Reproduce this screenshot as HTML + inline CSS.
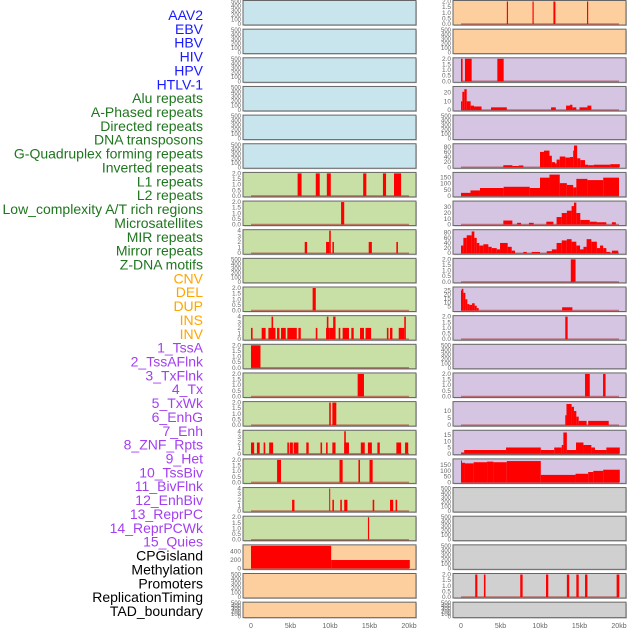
<!DOCTYPE html>
<html><head><meta charset="utf-8"><style>
html,body{margin:0;padding:0;background:#fff;}
svg{display:block;font-family:"Liberation Sans",sans-serif;}
</style></head><body>
<svg id="chart" width="630" height="630" viewBox="0 0 630 630" xmlns="http://www.w3.org/2000/svg"></svg>
<script>
// ---- data: bars as [startKb, endKb, value] ----
const L0=[],L1=[],L2=[],L3=[],L4=[],L5=[];
const L6=[[5.9,6.4,2],[8.2,8.7,2],[9.6,10.1,2],[14.2,14.6,2],[16.7,17.1,2],[18.1,19.0,2]];
const L7=[[11.4,11.8,2]];
const L8=[[6.8,7.1,2],[9.5,9.9,2],[9.9,10.1,4],[10.3,10.5,2],[14.9,15.3,2],[18.4,18.6,2]];
const L9=[];
const L10=[[7.8,8.2,2]];
const L11=[[0,0.2,2],[1.35,1.85,2],[2.2,3.1,2],[2.6,2.8,4],[3.3,3.6,2],[3.8,4.4,2],[4.6,5.8,2],[6.0,6.3,2],[8.2,8.4,2],[9.5,9.9,2],[9.6,9.8,4],[9.9,10.7,2],[10.4,10.7,4],[11.1,11.3,2],[11.6,12.4,2],[12.7,13.0,2],[13.8,14.3,2],[14.5,15.2,2],[17.2,17.4,2],[17.6,17.9,2],[18.7,19.4,2],[19.4,19.6,4]];
const L12=[[0,1.2,2]];
const L13=[[13.5,14.3,2]];
const L14=[[9.9,10.1,2],[10.3,10.8,2]];
const L15=[[0,0.4,2],[0.75,1.1,2],[1.6,1.8,2],[2.3,2.8,2],[4.6,4.8,2],[4.9,5.3,2],[5.4,6.0,2],[7.0,7.3,2],[8.8,9.0,2],[9.5,9.7,2],[10.3,10.7,2],[11.8,12.4,2],[11.8,12.0,4],[13.9,14.4,2],[14.8,15.3,2],[16.0,16.3,2],[18.4,19.0,2],[19.5,19.9,2]];
const L16=[[3.3,3.8,2],[11.2,11.6,2],[13.6,13.8,2],[15.0,15.4,2]];
const L17=[[5.2,5.5,2],[9.9,10.0,4],[10.3,10.5,2],[11.3,11.5,2],[11.8,12.2,2],[15.4,15.6,2],[17.6,18.0,2],[18.3,18.5,2]];
const L18=[[14.8,14.95,2]];
const L19=[[0,10.15,540],[10.15,20.1,200]];
const L20=[],L21=[];
const R0=[[5.8,5.95,2],[9.05,9.2,2],[11.7,11.95,2],[15.95,16.1,2]];
const R1=[];
const R2=[[0,0.2,2],[0.5,1.35,2],[4.6,5.4,2]];
const R3=[[0,0.17,10],[0.17,0.42,21],[0.42,0.72,24],[0.72,1.22,10],[1.22,1.65,5],[1.65,2.6,4],[3.8,5.8,3],[11.4,12.0,3],[13.3,13.8,5],[13.8,14.1,6],[14.1,14.6,3],[15.0,16.0,3],[16.0,16.5,5]];
const R4=[];
const R5=[[5.36,6.5,8],[6.5,7.3,5],[7.3,7.9,7],[10.0,10.5,60],[10.5,11.2,65],[11.2,11.5,45],[11.5,11.9,20],[11.9,12.1,15],[12.1,12.5,30],[12.5,13.2,42],[13.2,13.8,38],[13.8,14.2,40],[14.2,14.3,65],[14.3,14.7,85],[14.7,15.1,35],[15.1,15.7,28],[15.7,16.1,10],[16.1,16.8,8],[16.8,18.9,10],[18.9,20.1,12]];
const R6=[[0,1.2,25],[1.2,2.4,45],[2.4,5.4,65],[5.4,8.7,75],[8.7,10.0,65],[10.0,11.2,150],[11.2,12.5,175],[12.5,13.4,105],[13.4,14.2,90],[14.2,14.6,70],[14.6,16.0,140],[16.0,18.0,130],[18.0,20.0,150]];
const R7=[[5.36,6.5,7],[7.1,7.6,3],[8.6,9.2,3],[10.8,11.7,5],[12.1,12.75,13],[12.75,13.4,20],[13.4,14.0,24],[14.0,14.3,32],[14.3,14.6,38],[14.6,15.1,20],[15.1,16.3,8],[16.3,17.2,5],[17.2,18.4,4],[19.1,19.6,4]];
const R8=[[0,0.3,30],[0.3,0.72,60],[0.72,1.35,70],[1.35,1.69,85],[1.69,1.99,60],[1.99,2.32,40],[2.32,2.83,30],[2.83,3.46,35],[3.46,3.89,25],[3.89,4.52,20],[4.52,4.94,15],[4.94,5.91,40],[5.91,6.42,25],[6.42,6.84,10],[7.89,8.32,5],[8.95,10.0,5],[10.85,11.5,8],[11.5,12.1,15],[12.1,12.75,40],[12.75,13.4,50],[13.4,14.0,55],[14.0,14.6,45],[14.6,15.07,30],[15.07,15.5,15],[15.5,15.9,25],[15.9,16.5,55],[16.5,17.2,45],[17.2,17.6,20],[17.6,18.0,30],[18.0,18.4,20],[18.4,18.9,5],[19.1,19.9,10]];
const R9=[[13.9,14.5,2]];
const R10=[[0,0.09,25],[0.09,0.3,27],[0.3,0.55,22],[0.55,0.8,14],[0.8,1.06,8],[1.06,1.4,7],[1.4,1.73,9],[1.73,1.99,6],[1.99,2.24,3],[12.8,14.1,4]];
const R11=[[13.2,13.5,2]];
const R12=[];
const R13=[[15.7,16.3,2],[17.98,18.3,2]];
const R14=[[13.2,13.35,7],[13.35,14.0,15],[14.0,14.3,13],[14.3,14.6,10],[14.6,14.9,6],[14.9,15.9,3],[16.1,18.7,3]];
const R15=[[0,0.4,1],[0.4,5.7,3],[5.7,10.1,5],[10.1,11.8,3],[11.8,12.75,5],[12.75,12.96,7],[12.96,13.4,17],[13.4,14.56,3],[14.56,15.5,9],[15.5,16.5,7],[16.5,16.96,5],[16.96,18.4,3],[18.4,20.1,5]];
const R16=[[0,0.1,190],[0.1,0.5,170],[0.5,1.6,165],[1.6,3.3,175],[3.3,4.1,180],[4.1,5.8,175],[5.8,10.1,185],[10.1,14.5,65],[14.5,16.1,75],[16.1,16.75,90],[16.75,18.0,100],[18.0,20.1,110]];
const R17=[],R18=[],R19=[];
const R20=[[1.8,2.07,2],[2.9,3.1,2],[7.5,7.8,2],[10.76,11.05,2],[13.4,13.7,2],[14.6,14.9,2],[15.7,16.0,2],[19.7,20.04,2]];
const R21=[];

const labels=["AAV2","EBV","HBV","HIV","HPV","HTLV-1","Alu repeats","A-Phased repeats","Directed repeats","DNA transposons","G-Quadruplex forming repeats","Inverted repeats","L1 repeats","L2 repeats","Low_complexity A/T rich regions","Microsatellites","MIR repeats","Mirror repeats","Z-DNA motifs","CNV","DEL","DUP","INS","INV","1_TssA","2_TssAFlnk","3_TxFlnk","4_Tx","5_TxWk","6_EnhG","7_Enh","8_ZNF_Rpts","9_Het","10_TssBiv","11_BivFlnk","12_EnhBiv","13_ReprPC","14_ReprPCWk","15_Quies","CPGisland","Methylation","Promoters","ReplicationTiming","TAD_boundary"];
const xTicks=[0,5,10,15,20];
const xTickLabels=["0","5kb","10kb","15kb","20kb"];
const leftData=[L0,L1,L2,L3,L4,L5,L6,L7,L8,L9,L10,L11,L12,L13,L14,L15,L16,L17,L18,L19,L20,L21];
const rightData=[R0,R1,R2,R3,R4,R5,R6,R7,R8,R9,R10,R11,R12,R13,R14,R15,R16,R17,R18,R19,R20,R21];
// per-panel y domain max and ticks
const leftYMax=[500,500,500,500,500,500,2,2,4,500,2,4,2,2,2,4,2,4,2,540,500,500];
const rightYMax=[2,500,2,26,500,88,185,39,88,2,28,2,500,2,16,18,195,500,500,500,2,500];
const leftTicks=[[0,100,200,300,400,500],[0,100,200,300,400,500],[0,100,200,300,400,500],[0,100,200,300,400,500],[0,100,200,300,400,500],[0,100,200,300,400,500],[0,0.5,1,1.5,2],[0,0.5,1,1.5,2],[0,1,2,3,4],[0,100,200,300,400,500],[0,0.5,1,1.5,2],[0,1,2,3,4],[0,0.5,1,1.5,2],[0,0.5,1,1.5,2],[0,0.5,1,1.5,2],[0,1,2,3,4],[0,0.5,1,1.5,2],[0,1,2,3,4],[0,0.5,1,1.5,2],[0,200,400],[0,100,200,300,400,500],[0,100,200,300,400,500]];
const rightTicks=[[0,0.5,1,1.5,2],[0,100,200,300,400,500],[0,0.5,1,1.5,2],[0,10,20],[0,100,200,300,400,500],[0,20,40,60,80],[0,50,100,150],[0,10,20,30],[0,20,40,60,80],[0,0.5,1,1.5,2],[5,10,15,20,25],[0,0.5,1,1.5,2],[0,100,200,300,400,500],[0,0.5,1,1.5,2],[0,5,10],[0,5,10,15],[0,50,100,150],[0,100,200,300,400,500],[0,100,200,300,400,500],[0,100,200,300,400,500],[0,0.5,1,1.5,2],[0,100,200,300,400,500]];
const leftBg=["#c8e4ec","#c8e4ec","#c8e4ec","#c8e4ec","#c8e4ec","#c8e4ec","#c8e0a5","#c8e0a5","#c8e0a5","#c8e0a5","#c8e0a5","#c8e0a5","#c8e0a5","#c8e0a5","#c8e0a5","#c8e0a5","#c8e0a5","#c8e0a5","#c8e0a5","#fecf9e","#fecf9e","#fecf9e"];
const rightBg=["#fecf9e","#fecf9e","#d5c5e2","#d5c5e2","#d5c5e2","#d5c5e2","#d5c5e2","#d5c5e2","#d5c5e2","#d5c5e2","#d5c5e2","#d5c5e2","#d5c5e2","#d5c5e2","#d5c5e2","#d5c5e2","#d5c5e2","#d0d0d0","#d0d0d0","#d0d0d0","#d0d0d0","#d0d0d0"];

const NS="http://www.w3.org/2000/svg";
const svg=document.getElementById('chart');
function mk(tag,attrs,parent){const e=document.createElementNS(NS,tag);for(const k in attrs)e.setAttribute(k,attrs[k]);(parent||svg).appendChild(e);return e;}

// labels
function labelColor(i){if(i<6)return"#1a1aff";if(i<19)return"#1f761f";if(i<24)return"#ffa500";if(i<39)return"#a33ff0";return"#000";}
labels.forEach((t,i)=>{
  const e=mk('text',{x:203,y:(15+13.86*i+5).toFixed(1),'text-anchor':'end','font-size':'14',fill:labelColor(i)});
  e.textContent=t;
  
  
});

function rowTop(i){return i*28.65+0.5;}
function rowH(i){return i===21?15.5:24.5;}

function drawPanel(colX,i,bars,ymax,ticks,bg,name){
  const g=mk('g',{});
  
  
  const top=rowTop(i),h=rowH(i),bottom=top+h;
  const xs=kb=>colX+8+kb*7.9;
  const ys=v=>bottom-1-(v/ymax)*(h-2);
  mk('rect',{x:colX+1,y:top+1,width:173,height:h,fill:'#999',opacity:0.5},g);
  mk('rect',{x:colX,y:top,width:173,height:h,fill:bg,stroke:'#666','stroke-width':1},g);
  const hasData=ymax<=200&&ymax!==500;
  if(bars.length){
    mk('line',{x1:xs(0),x2:xs(20),y1:bottom-1,y2:bottom-1,stroke:'rgba(170,40,40,0.55)','stroke-width':1.5},g);
  }
  bars.forEach(b=>{
    const x1=xs(b[0]),x2=xs(b[1]),y=ys(Math.min(b[2],ymax));
    const r=mk('rect',{x:x1.toFixed(2),y:y.toFixed(2),width:Math.max(1,x2-x1).toFixed(2),height:(bottom-1-y).toFixed(2),fill:'#ff0000'},g);
    
    
  });
  ticks.forEach(t=>{
    const lab=ymax<=2?t.toFixed(1):String(t);
    const e=mk('text',{x:colX-2,y:(ys(t)+2).toFixed(1),'text-anchor':'end','font-size':ymax===500||ymax===540&&false?'6':'6.5',fill:'#666'},g);
    e.textContent=lab;
  });
}
for(let i=0;i<22;i++){
  drawPanel(243,i,leftData[i],leftYMax[i],leftTicks[i],leftBg[i],'panel-'+labels[i].toLowerCase().replace(/[^a-z0-9]+/g,'-'));
  drawPanel(453,i,rightData[i],rightYMax[i],rightTicks[i],rightBg[i],'panel-'+labels[22+i].toLowerCase().replace(/[^a-z0-9]+/g,'-'));
}
// x axes
[243,453].forEach((colX,c)=>{
  xTicks.forEach((t,j)=>{
    const e=mk('text',{x:colX+8+t*7.9,y:628,'text-anchor':'middle','font-size':'7',fill:'#666'});
    e.textContent=xTickLabels[j];
    
    
  });
});
</script>
</body></html>
